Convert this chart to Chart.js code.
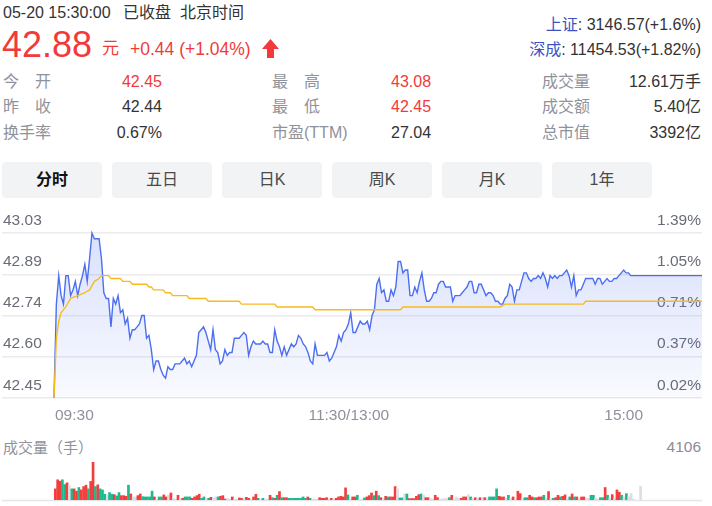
<!DOCTYPE html>
<html><head><meta charset="utf-8">
<script src="https://cdn.jsdelivr.net/npm/chart.js@4.4.1/dist/chart.umd.min.js"></script>
<style>
html,body{margin:0;padding:0;background:#fff}
body{width:712px;height:506px;position:relative;overflow:hidden;font-family:"Liberation Sans",Arial,"Noto Sans CJK SC",sans-serif}
.t{position:absolute;white-space:nowrap;line-height:1}
.lab{color:#8f929b;font-size:16px}
.val{color:#333;font-size:16px}
.red{color:#f23a3a}
.tab{position:absolute;top:162px;width:100px;height:36px;background:#f2f3f5;border-radius:4px;text-align:center;line-height:36px;font-size:16px;color:#4a4a4a}
canvas{position:absolute;left:0}
</style></head><body>
<div class="t val" style="left:3px;top:5px">05-20 15:30:00</div>
<div class="t val" style="left:123px;top:5px">已收盘</div>
<div class="t val" style="left:180px;top:5px">北京时间</div>
<div class="t red" style="left:2px;top:26.5px;font-size:36px">42.88</div>
<div class="t red" style="left:102px;top:40px;font-size:17px">元</div>
<div class="t red" style="left:130px;top:40.5px;font-size:17.5px">+0.44 (+1.04%)</div>
<svg style="position:absolute;left:262px;top:39px" width="17" height="19"><path d="M8.5 0 L17 10 L12 10 L12 19 L5 19 L5 10 L0 10 Z" fill="#f23a3a"/></svg>
<div class="t val" style="right:11px;top:17px"><span style="color:#3b52c4">上证</span>: 3146.57(+1.6%)</div>
<div class="t val" style="right:11px;top:42px"><span style="color:#3b52c4">深成</span>: 11454.53(+1.82%)</div>

<div class="t lab" style="left:3px;top:74px">今　开</div>
<div class="t lab" style="left:3px;top:99px">昨　收</div>
<div class="t lab" style="left:3px;top:125px">换手率</div>
<div class="t val red" style="right:550px;top:74px">42.45</div>
<div class="t val" style="right:550px;top:99px">42.44</div>
<div class="t val" style="right:550px;top:125px">0.67%</div>
<div class="t lab" style="left:272px;top:74px">最　高</div>
<div class="t lab" style="left:272px;top:99px">最　低</div>
<div class="t lab" style="left:272px;top:125px">市盈(TTM)</div>
<div class="t val red" style="left:391px;top:74px">43.08</div>
<div class="t val red" style="left:391px;top:99px">42.45</div>
<div class="t val" style="left:391px;top:125px">27.04</div>
<div class="t lab" style="left:542px;top:74px">成交量</div>
<div class="t lab" style="left:542px;top:99px">成交额</div>
<div class="t lab" style="left:542px;top:125px">总市值</div>
<div class="t val" style="right:11px;top:74px">12.61万手</div>
<div class="t val" style="right:11px;top:99px">5.40亿</div>
<div class="t val" style="right:11px;top:125px">3392亿</div>

<div class="tab" style="left:2px;color:#111;font-weight:bold">分时</div>
<div class="tab" style="left:112px">五日</div>
<div class="tab" style="left:222px">日K</div>
<div class="tab" style="left:332px">周K</div>
<div class="tab" style="left:442px">月K</div>
<div class="tab" style="left:552px">1年</div>

<canvas id="pc" width="712" height="225" style="top:205px"></canvas>
<div class="t lab" style="left:3px;top:439.5px;font-size:15px">成交量（手）</div>
<div class="t lab" id="vmax" style="right:11px;top:438.5px;font-size:15.5px;color:#8a8d96"></div>
<canvas id="vc" width="712" height="50" style="top:455px"></canvas>

<script>
// ---- data ----
const priceTickValues = [42.45, 42.595, 42.74, 42.885, 43.03];
const priceTickLabels = ['42.45', '42.60', '42.74', '42.89', '43.03'];
const pctTickLabels = ['0.02%', '0.37%', '0.71%', '1.05%', '1.39%'];
const timeTickMinutes = [0, 120, 240];
const timeTickLabels = ['09:30', '11:30/13:00', '15:00'];

// price per minute from 09:30 (null = not read)
const prices = [
42.45,42.78,42.88,42.81,42.78,42.88,42.88,42.81,42.83,42.86,
42.81,42.85,42.88,42.92,42.86,42.94,43.03,43.01,43.01,43.01,
42.94,42.82,42.80,42.80,42.70,42.80,42.78,42.81,42.75,42.76,
42.71,42.73,42.66,42.69,42.69,42.70,42.71,42.74,42.74,42.66,
42.67,42.62,42.55,42.58,42.58,42.55,42.53,42.52,42.56,42.55,
42.55,42.57,42.57,42.57,42.58,42.59,42.57,42.58,42.56,null,
42.60,42.68,42.69,42.70,42.68,42.65,42.62,42.69,42.62,42.61,
42.57,42.58,42.62,42.60,42.61,42.61,42.66,42.66,42.66,42.67,
42.68,42.67,42.60,42.63,42.65,42.64,null,42.64,42.65,42.64,
42.64,42.61,42.61,42.69,42.65,42.63,42.60,42.63,42.60,42.62,
42.64,42.63,42.64,42.67,42.66,42.64,42.63,42.61,42.58,42.57,
42.64,42.60,42.60,42.60,42.60,42.61,42.58,42.59,42.61,42.63,
42.67,42.65,42.68,42.69,42.71,42.75,42.68,42.68,42.70,42.72,
42.71,42.71,42.72,42.69,42.74,42.76,42.85,42.87,42.82,42.83,
42.79,42.79,42.83,42.81,42.84,42.93,42.93,42.89,42.90,42.90,
42.81,42.81,42.84,42.82,42.86,42.89,42.83,42.79,42.79,42.80,
42.82,42.82,42.85,42.86,42.86,42.84,42.84,42.84,42.79,42.81,
42.81,42.81,42.82,42.83,42.84,42.86,42.86,42.82,42.82,42.85,
42.85,null,42.81,42.82,42.82,42.81,42.79,42.79,42.78,42.78,
42.80,42.81,42.85,42.84,42.79,42.83,42.83,42.86,42.89,42.89,
42.87,42.86,42.87,42.87,42.88,42.87,42.89,42.87,42.84,42.88,
42.87,42.88,42.87,42.88,42.88,42.89,42.90,42.88,42.84,42.88,
42.81,42.83,42.83,42.85,42.87,42.87,42.87,42.87,42.85,42.87,
42.87,42.85,42.86,42.87,42.86,42.86,42.87,42.87,42.88,42.89,
42.90,42.89,42.89,42.88
];
const afterMinutes = [273];
const afterPrices = [42.88];

const avgMinutes = [0,1,2,3,5,7,10,13,15,17,19,20,23,24,28,29,32,33,39,40,41,42,46,47,49,50,56,57,64,65,78,79,93,94,109,110,146,147,188,190,223,224,273];
const avgPrices  = [42.45,42.66,42.72,42.75,42.77,42.80,42.81,42.82,42.83,42.86,42.87,42.88,42.88,42.87,42.87,42.86,42.86,42.85,42.85,42.84,42.84,42.83,42.83,42.82,42.82,42.81,42.81,42.80,42.80,42.79,42.79,42.78,42.78,42.77,42.77,42.76,42.76,42.77,42.77,42.78,42.78,42.79,42.79];

const volumeMax = 4106;
const volumes = [
1200,2180,2030,2180,1670,1850,1560,1200,1200,950,
1350,1090,1450,1600,1200,2000,4106,1450,1635,1200,
1090,620,550,800,620,580,440,800,470,470,
400,1600,650,330,330,470,650,360,330,330,
330,950,330,60,330,330,550,330,550,760,
180,100,510,180,180,330,330,330,180,330,
470,620,180,330,180,180,290,180,330,330,
400,470,100,180,100,330,70,70,220,180,
180,290,180,70,330,620,180,100,180,100,
100,510,250,180,510,910,250,250,250,180,
180,180,180,180,180,330,180,330,180,100,
100,100,250,180,180,250,100,180,100,180,
330,400,330,1310,550,70,330,330,510,70,
100,220,330,470,760,470,950,470,250,180,
400,330,330,330,1450,1200,220,220,650,650,
150,150,150,400,580,650,550,250,250,180,
100,510,250,100,100,180,180,250,510,100,
330,180,180,330,330,580,330,180,250,180,
250,250,250,180,330,330,330,1200,400,330,
330,180,510,180,330,100,950,690,180,250,
250,510,330,250,250,330,330,510,180,910,
180,180,250,510,330,400,550,180,330,650,
330,330,180,330,330,180,180,510,510,180,
100,250,250,1350,510,180,580,180,1090,840,
510,330,690,330,690,100,null,null,1490
];
// r = up, g = down, n = unchanged
const volDir = [
'rrrggrngrr','grrrgrrgrg','ggnggrggrr','rgrnnrrggg','ggrnggrrnr',
'nnrnrgggrr','rrggngrnng','rrrnnrnnrr','nrrnrrgngn','nrgrgrgrrg',
'gggggggrgn','nnrrrrnrnr','rrrrgnrrgn','ngrrrgrgrn','rgrrrnggng',
'rrrrrgnrrn','nrrnnnngrn','nnrrrngnrn','rnrnggggrr','rngnrnrrng',
'grrgrrrgnr','ngrrgrrngr','grnrrnnggn','nggrgnrnrr','gngnnnnnn'
].join('').split('');

// ---- charts ----
const FONT = '"Liberation Sans", Arial, sans-serif';
const priceLabels = {
  id: 'priceLabels',
  beforeDatasetsDraw(chart) {
    const { ctx, chartArea: a, scales: { x, y } } = chart;
    ctx.save();
    ctx.font = '15.5px ' + FONT;
    ctx.fillStyle = '#686c76';
    ctx.textBaseline = 'alphabetic';
    priceTickValues.forEach((v, i) => {
      const py = y.getPixelForValue(v) - 8.5;
      ctx.textAlign = 'left'; ctx.fillText(priceTickLabels[i], 3, py);
      ctx.textAlign = 'right'; ctx.fillText(pctTickLabels[i], 701, py);
    });
    ctx.fillStyle = '#8d919b';
    const aligns = ['left', 'center', 'center'];
    const shifts = [1, 10, 0];
    timeTickMinutes.forEach((m, i) => {
      ctx.textAlign = aligns[i];
      ctx.fillText(timeTickLabels[i], x.getPixelForValue(m) + shifts[i], a.bottom + 22);
    });
    ctx.restore();
  }
};

const priceData = prices.map((p, i) => ({ x: i, y: p }))
  .concat(afterMinutes.map((m, i) => ({ x: m, y: afterPrices[i] })));
const avgData = avgMinutes.map((m, i) => ({ x: m, y: avgPrices[i] }));

new Chart(document.getElementById('pc'), {
  type: 'line',
  data: {
    datasets: [
      { data: avgData, borderColor: '#f8bb1f', borderWidth: 1.4, pointRadius: 0, fill: false, clip: 8 },
      {
        data: priceData, borderColor: '#4c6ff0', borderWidth: 1.4, pointRadius: 0, spanGaps: true, fill: 'start', clip: 8,
        backgroundColor: (c) => {
          const { ctx, chartArea } = c.chart;
          if (!chartArea) return 'rgba(0,0,0,0)';
          const g = ctx.createLinearGradient(0, chartArea.top, 0, chartArea.bottom);
          g.addColorStop(0, 'rgba(76,111,240,0.21)');
          g.addColorStop(1, 'rgba(76,111,240,0.03)');
          return g;
        }
      }
    ]
  },
  options: {
    responsive: false, animation: false, devicePixelRatio: 1,
    layout: { padding: { left: 2, right: 10, top: 28, bottom: 32 } },
    plugins: { legend: { display: false }, tooltip: { enabled: false } },
    elements: { line: { tension: 0 } },
    scales: {
      x: { type: 'linear', display: false, min: -21.9, max: 273 },
      y: {
        min: 42.45, max: 43.03,
        afterBuildTicks: (s) => { s.ticks = priceTickValues.map(v => ({ value: v })); },
        afterFit: (s) => { s.width = 0; },
        ticks: { display: false },
        grid: { color: '#ebebee', lineWidth: 1.5, drawTicks: false },
        border: { display: false }
      }
    }
  },
  plugins: [priceLabels]
});

document.getElementById('vmax').textContent = String(volumeMax);
const dirColor = { r: '#f53d3d', g: '#1bb98c', n: '#dcdee4' };
const volBase = {
  id: 'volBase',
  beforeDatasetsDraw(chart) {
    const { ctx, chartArea: a, scales: { y } } = chart;
    ctx.save();
    ctx.strokeStyle = '#e4e5e9';
    ctx.lineWidth = 1.5;
    const py = y.getPixelForValue(0) + 0.5;
    ctx.beginPath(); ctx.moveTo(a.left, py); ctx.lineTo(a.right, py); ctx.stroke();
    ctx.restore();
  }
};
new Chart(document.getElementById('vc'), {
  type: 'bar',
  data: {
    datasets: [{
      data: volumes.map((v, i) => ({ x: i, y: v })),
      backgroundColor: volDir.map(d => dirColor[d]),
      barThickness: 2, borderWidth: 0
    }]
  },
  options: {
    responsive: false, animation: false, devicePixelRatio: 1,
    layout: { padding: { left: 2, right: 10, top: 7, bottom: 5 } },
    plugins: { legend: { display: false }, tooltip: { enabled: false } },
    scales: {
      x: { type: 'linear', display: false, offset: false, min: -22.58, max: 274.03 },
      y: { display: false, min: 0, max: volumeMax }
    }
  },
  plugins: [volBase]
});
</script>
</body></html>
